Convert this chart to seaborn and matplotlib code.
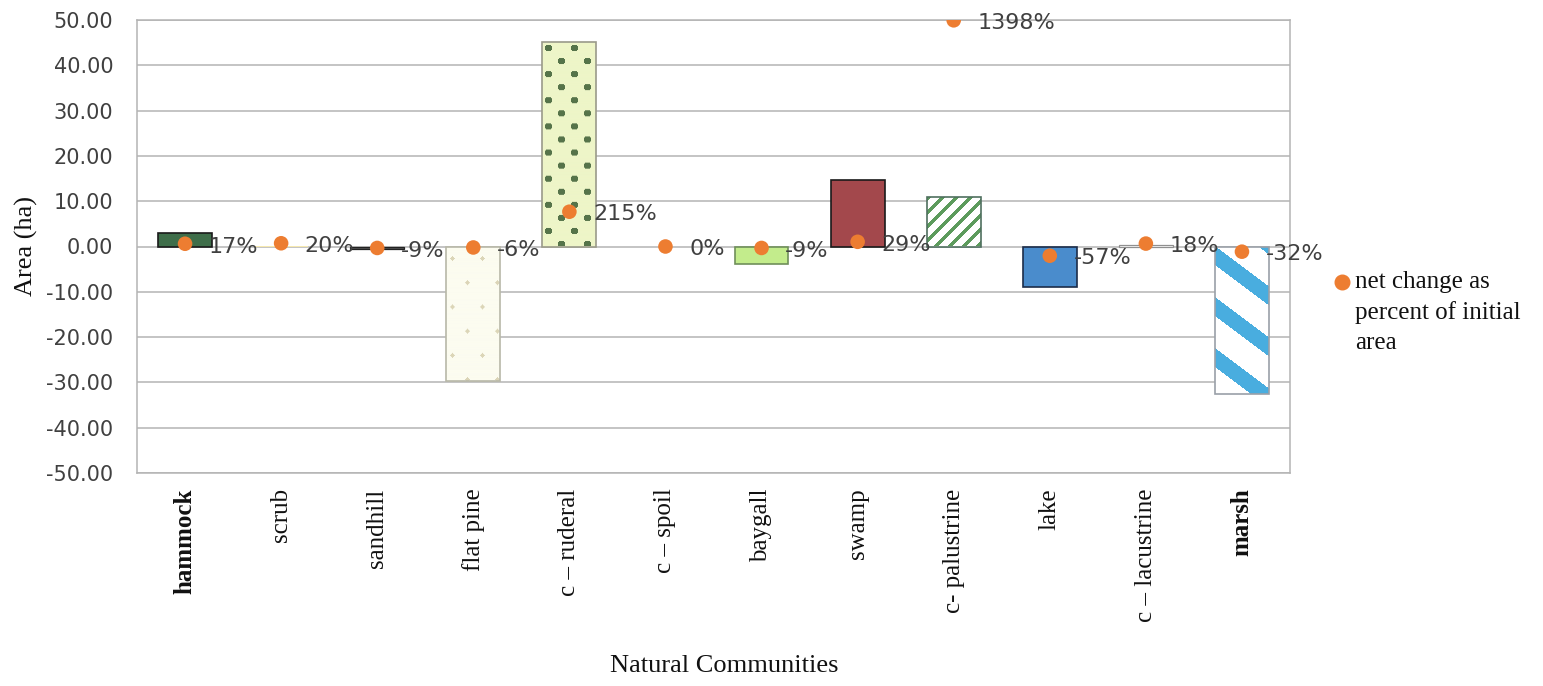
import numpy as np
import matplotlib
matplotlib.use("Agg")
import matplotlib.pyplot as plt
from matplotlib.patches import Rectangle
from matplotlib.lines import Line2D
import seaborn as sns

# Net change in area per natural community (ha) and as percent of initial area
communities = ["hammock", "scrub", "sandhill", "flat pine", "c \u2013 ruderal", "c \u2013 spoil",
               "baygall", "swamp", "c- palustrine", "lake", "c \u2013 lacustrine", "marsh"]
area_change_ha = [2.9, 0.1, -0.5, -29.6, 45.1, 0.0, -3.8, 14.6, 11.0, -9.0, 0.4, -32.6]
pct_change = [17, 20, -9, -6, 215, 0, -9, 29, 1398, -57, 18, -32]
y_ticks = [-50, -40, -30, -20, -10, 0, 10, 20, 30, 40, 50]
legend_label = "net change as\npercent of initial\narea"

# Bar styling: base face colour, outline colour, optional fill pattern
face_colors = ["#3f6e4a", "#f6e9b0", "#555555", "#fcfcf0", "#eef5c8", "#ffffff",
               "#c3ec8c", "#a3484c", "#ffffff", "#4a8ccc", "#ffffff", "#ffffff"]
edge_colors = ["#1a1a1a", "none", "#222222", "#b8b8a8", "#9a9a8a", "none",
               "#6f8f5a", "#1a1a1a", "#4f6f5f", "#1c2d4a", "#909090", "#9aa0a8"]
patterns = {3: ("dots_sparse", "#dcd6b8"), 4: ("dots", "#56744a"),
            8: ("slash", "#5d9b5d"), 11: ("backslash", "#4aaee0")}

SERIF = "Liberation Serif"
SANS = "DejaVu Sans"
ORANGE = "#ED7D31"

sns.set_theme(style="white")
plt.rcParams["font.family"] = [SANS]

fig = plt.figure(figsize=(15.43, 6.86), dpi=100)
ax = fig.add_axes([137 / 1543, 1 - 473 / 686, (1290 - 137) / 1543, (473 - 20) / 686])

positions = np.arange(len(communities))
sns.barplot(x=positions, y=area_change_ha, hue=positions, palette=face_colors,
            legend=False, width=0.56, saturation=1, linewidth=0, errorbar=None,
            native_scale=False, ax=ax, zorder=2)

ax.set_xlim(-0.5, len(communities) - 0.5)
ax.set_ylim(-50, 50)
ax.set_yticks(y_ticks)
ax.set_yticklabels([f"{v:.2f}" for v in y_ticks], fontsize=15, color="#404040", family=SANS)
ax.set_xticks(positions)
ax.set_xticklabels(communities, rotation=90, fontsize=18, family=SERIF, color="#111111",
                   va="top", ha="center")
for lbl in ax.get_xticklabels():
    if lbl.get_text() in ("hammock", "marsh"):
        lbl.set_fontweight("bold")
ax.tick_params(axis="both", length=0)
ax.tick_params(axis="y", pad=17)
ax.tick_params(axis="x", pad=11)
ax.grid(axis="y", color="#b4b4b4", linewidth=1.1)
ax.grid(axis="x", visible=False)
ax.set_axisbelow(True)
for sp in ax.spines.values():
    sp.set_color("#b4b4b4")
    sp.set_linewidth(1.1)

ax.set_ylabel("Area (ha)", family=SERIF, fontsize=19, color="#111111")
ax.yaxis.set_label_coords((38 - 137) / 1153, 0.5)
ax.set_xlabel("Natural Communities", family=SERIF, fontsize=19, color="#111111")
ax.xaxis.set_label_coords((724 - 137) / 1153, (473 - 655) / 453)


def pattern_rgba(kind, w, h, color, bg):
    yy, xx = np.mgrid[0:h, 0:w].astype(float)
    img = np.zeros((h, w, 4))
    img[:] = matplotlib.colors.to_rgba(bg)
    fg = np.array(matplotlib.colors.to_rgba(color))
    if kind == "backslash":
        d = (yy - 0.75 * xx) % 51
        mask = d < 19
    elif kind == "slash":
        d = (yy + xx) % 14
        mask = d < 5
    else:
        if kind == "dots":
            dx, dy, rad = 26, 13, 3.4
        else:
            dx, dy, rad = 30, 24, 2.2
        mask = np.zeros((h, w), bool)
        for r, cy in enumerate(np.arange(dy / 2, h + dy, dy)):
            off = (r % 2) * dx / 2
            for cx in np.arange(off + 6, w + dx, dx):
                mask |= (xx - cx) ** 2 + (yy - cy) ** 2 <= rad ** 2
    img[mask] = fg
    return img


# Bars drawn by seaborn: add fill patterns and outlines on top of each one
bar_patches = list(ax.patches)
for p in bar_patches:
    i = int(round(p.get_x() + p.get_width() / 2))
    x0, x1 = p.get_x(), p.get_x() + p.get_width()
    y0, y1 = sorted([p.get_y(), p.get_y() + p.get_height()])
    if i in patterns and abs(y1 - y0) > 0:
        kind, col = patterns[i]
        (px0, py0), (px1, py1) = ax.transData.transform([[x0, y0], [x1, y1]])
        w, h = max(int(round(px1 - px0)), 1), max(int(round(py1 - py0)), 1)
        img = pattern_rgba(kind, w, h, col, face_colors[i])
        im = ax.imshow(img, extent=(x0, x1, y0, y1), origin="upper", aspect="auto",
                       interpolation="antialiased", zorder=2.1)
        im.set_clip_path(p)
    if edge_colors[i] != "none":
        lw = 0.9 if abs(y1 - y0) < 1 else 1.2
        ax.add_patch(Rectangle((p.get_x(), p.get_y()), p.get_width(), p.get_height(),
                               fill=False, edgecolor=edge_colors[i], linewidth=lw, zorder=2.2))

ax.set_xlim(-0.5, len(communities) - 0.5)
ax.set_ylim(-50, 50)

# Percent change on a hidden secondary axis
ax2 = ax.twinx()
sns.scatterplot(x=positions, y=pct_change, ax=ax2, color=ORANGE, s=110,
                edgecolor="none", zorder=5, legend=False)
ax2.set_ylim(-1400, 1400)
ax2.set_yticks([])
ax2.grid(False)
for sp in ax2.spines.values():
    sp.set_visible(False)
for xpos, v in zip(positions, pct_change):
    ax2.annotate(f"{v}%", xy=(xpos, v), xytext=(17, -2), textcoords="offset points",
                 ha="left", va="center", fontsize=16, color="#404040", family=SANS,
                 annotation_clip=False)

# Legend entry for the percent-change markers, outside the plot area on the right
fig.add_artist(Line2D([1342 / 1543], [1 - 282 / 686], transform=fig.transFigure,
                      marker="o", linestyle="", color=ORANGE, markersize=10.5))
fig.text(1355 / 1543, 1 - 271 / 686, legend_label, family=SERIF, fontsize=18,
         color="#111111", ha="left", va="top", linespacing=1.45,
         transform=fig.transFigure)

fig.savefig("out.png", dpi=100, facecolor="white")
